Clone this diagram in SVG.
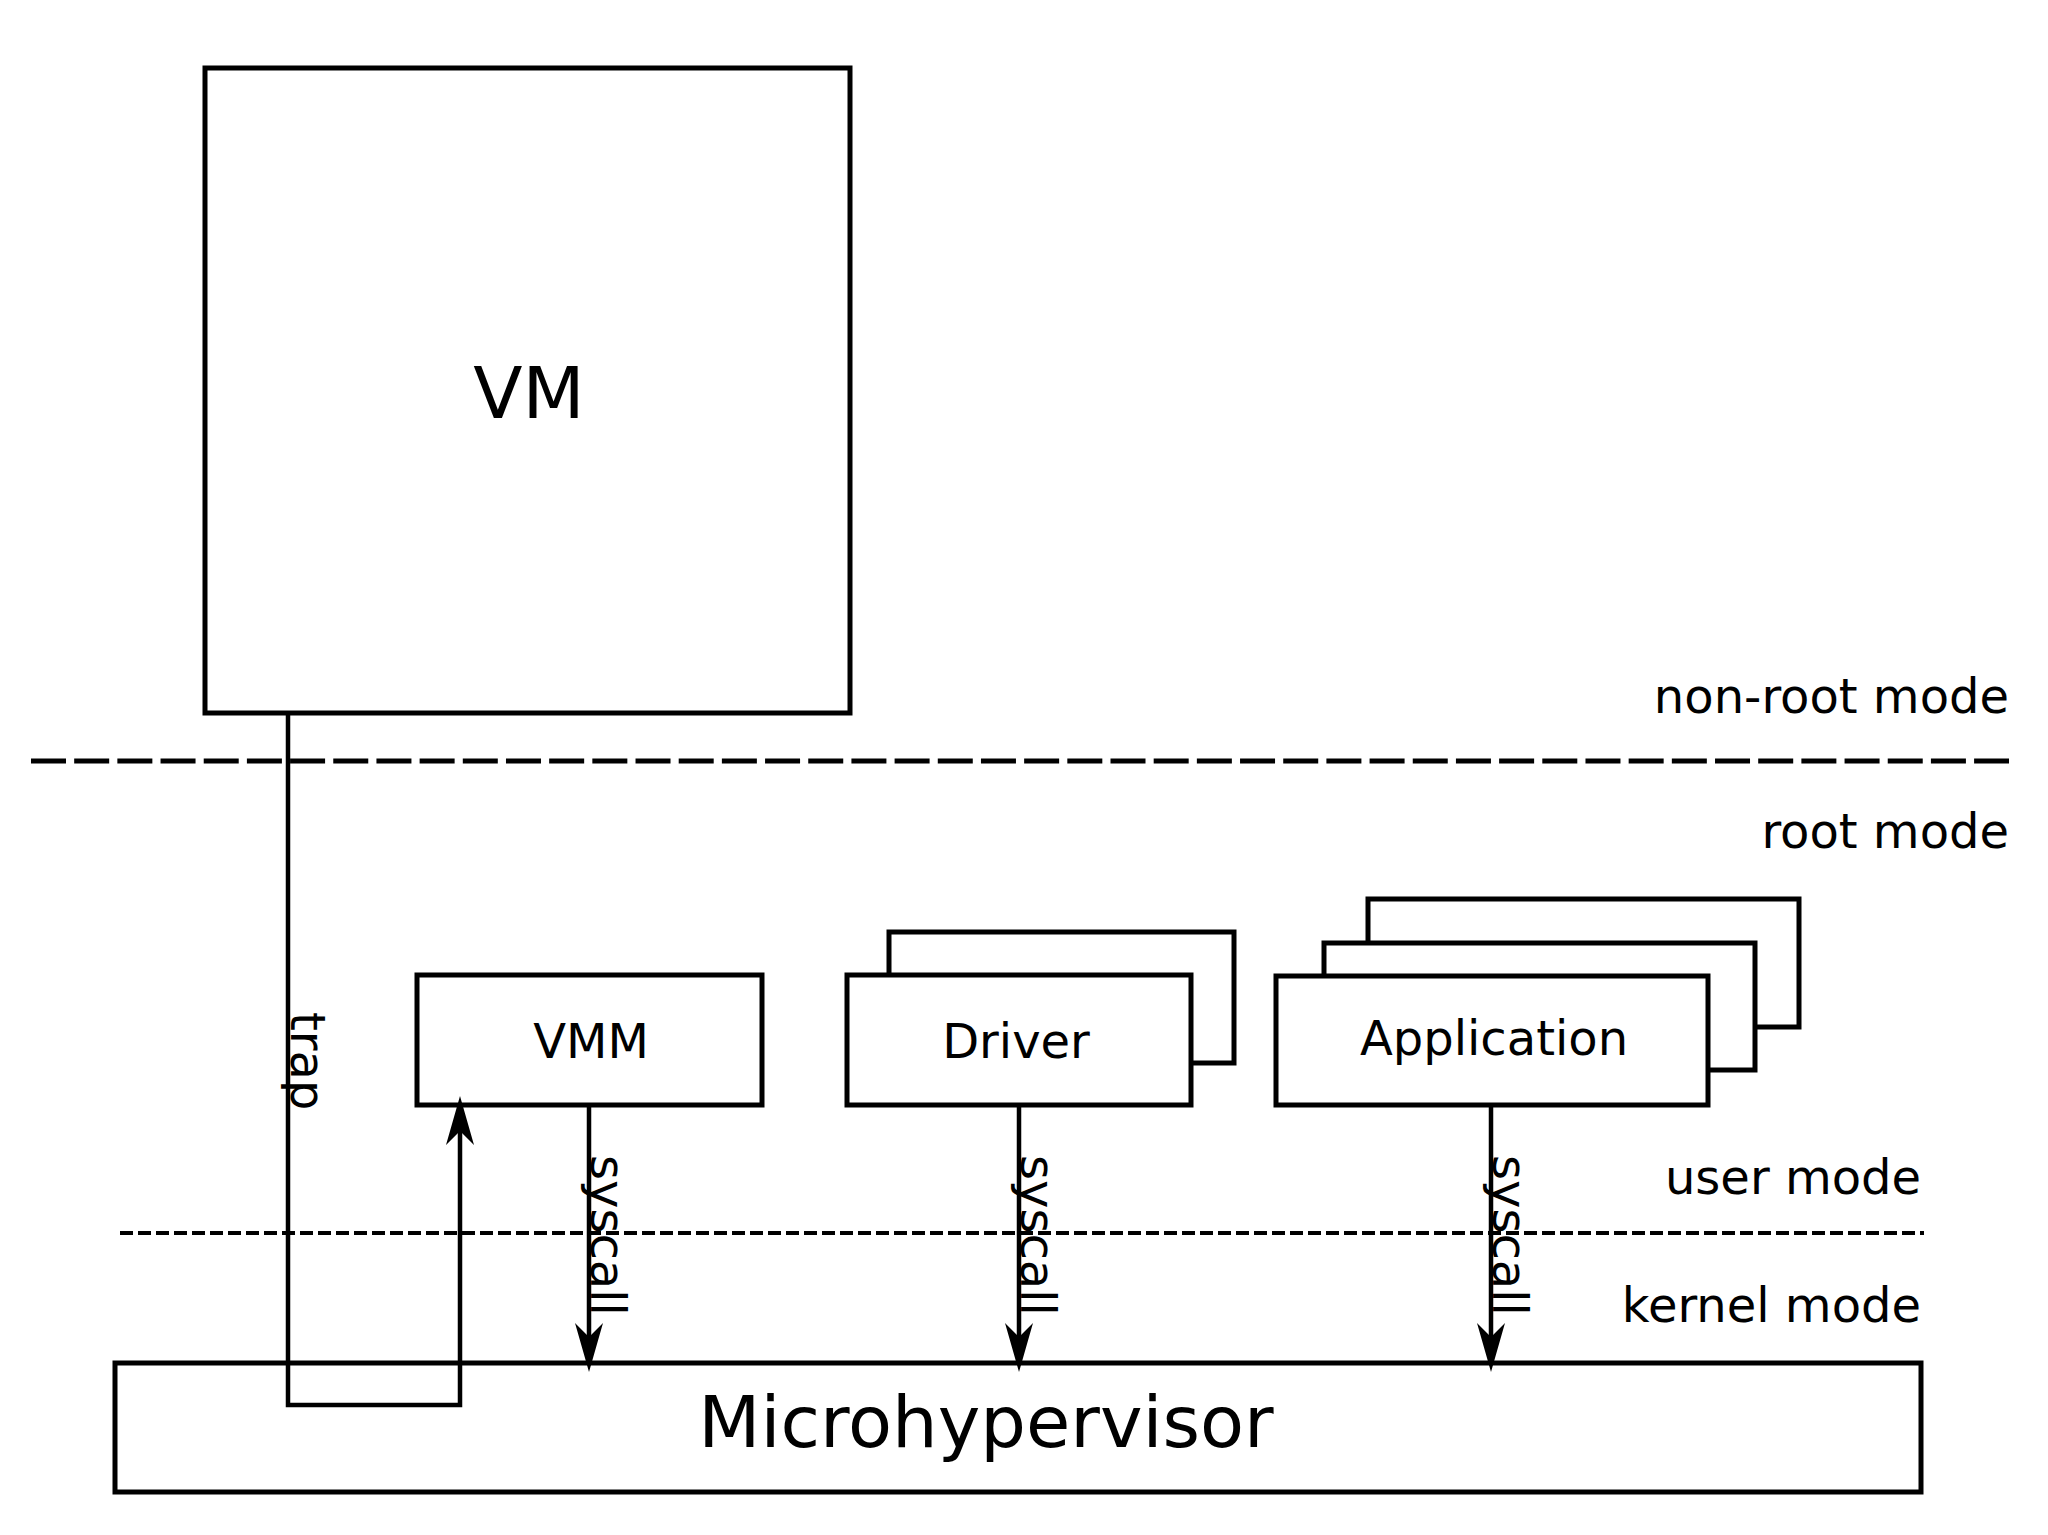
<svg xmlns="http://www.w3.org/2000/svg" width="2048" height="1535" viewBox="0 0 2048 1535">
<style>
.box{fill:#fff;stroke:#000;stroke-width:5}
.lbl{font-family:"DejaVu Sans",sans-serif;fill:#000}
.m{font-size:48px}
.big{font-size:72px}
.conn{fill:none;stroke:#000;stroke-width:4.5}
</style>
<defs>
<marker id="arr" markerUnits="userSpaceOnUse" viewBox="0 -15 50 30" markerWidth="50" markerHeight="30" refX="14" refY="0" orient="auto" overflow="visible">
<path d="M0,-14 L49,0 L0,14 L14,0 Z" fill="#000"/>
</marker>
</defs>
<rect width="2048" height="1535" fill="#fff"/>
<g id="mode-lines">
<line x1="31" y1="761" x2="2009" y2="761" stroke="#000" stroke-width="5" stroke-dasharray="35 8.18"/>
<line x1="120" y1="1233" x2="1924" y2="1233" stroke="#000" stroke-width="4" stroke-dasharray="13 5"/>
<text class="lbl m" x="2009" y="713" text-anchor="end">non-root mode</text>
<text class="lbl m" x="2009" y="848" text-anchor="end">root mode</text>
<text class="lbl m" x="1921" y="1194" text-anchor="end">user mode</text>
<text class="lbl m" x="1921" y="1322" text-anchor="end">kernel mode</text>
</g>
<g id="vm">
<rect class="box" x="205" y="68" width="645" height="645"/>
<text class="lbl big" x="529" y="418" text-anchor="middle">VM</text>
</g>
<g id="microhypervisor">
<rect class="box" x="115" y="1363" width="1806" height="129"/>
<text class="lbl big" x="986" y="1447" text-anchor="middle">Microhypervisor</text>
</g>
<g id="vmm">
<rect class="box" x="417" y="975" width="345" height="130"/>
<text class="lbl m" x="591" y="1058" text-anchor="middle">VMM</text>
</g>
<g id="driver">
<rect class="box" x="889" y="932" width="345" height="131"/>
<rect class="box" x="847" y="975" width="344" height="130"/>
<text class="lbl m" x="1016" y="1058" text-anchor="middle">Driver</text>
</g>
<g id="application">
<rect class="box" x="1368" y="899" width="431" height="128"/>
<rect class="box" x="1324" y="943" width="431" height="127"/>
<rect class="box" x="1276" y="976" width="432" height="129"/>
<text class="lbl m" x="1494" y="1055" text-anchor="middle">Application</text>
</g>
<g id="connectors">
<path class="conn" d="M288,713 V1405 H460 V1131" marker-end="url(#arr)"/>
<line class="conn" x1="589" y1="1105" x2="589" y2="1337" marker-end="url(#arr)"/>
<line class="conn" x1="1019" y1="1105" x2="1019" y2="1337" marker-end="url(#arr)"/>
<line class="conn" x1="1491" y1="1105" x2="1491" y2="1337" marker-end="url(#arr)"/>
<text class="lbl m" transform="translate(291,1012) rotate(90)">trap</text>
<text class="lbl m" transform="translate(591,1155) rotate(90)">syscall</text>
<text class="lbl m" transform="translate(1021,1155) rotate(90)">syscall</text>
<text class="lbl m" transform="translate(1493,1155) rotate(90)">syscall</text>
</g>
</svg>
